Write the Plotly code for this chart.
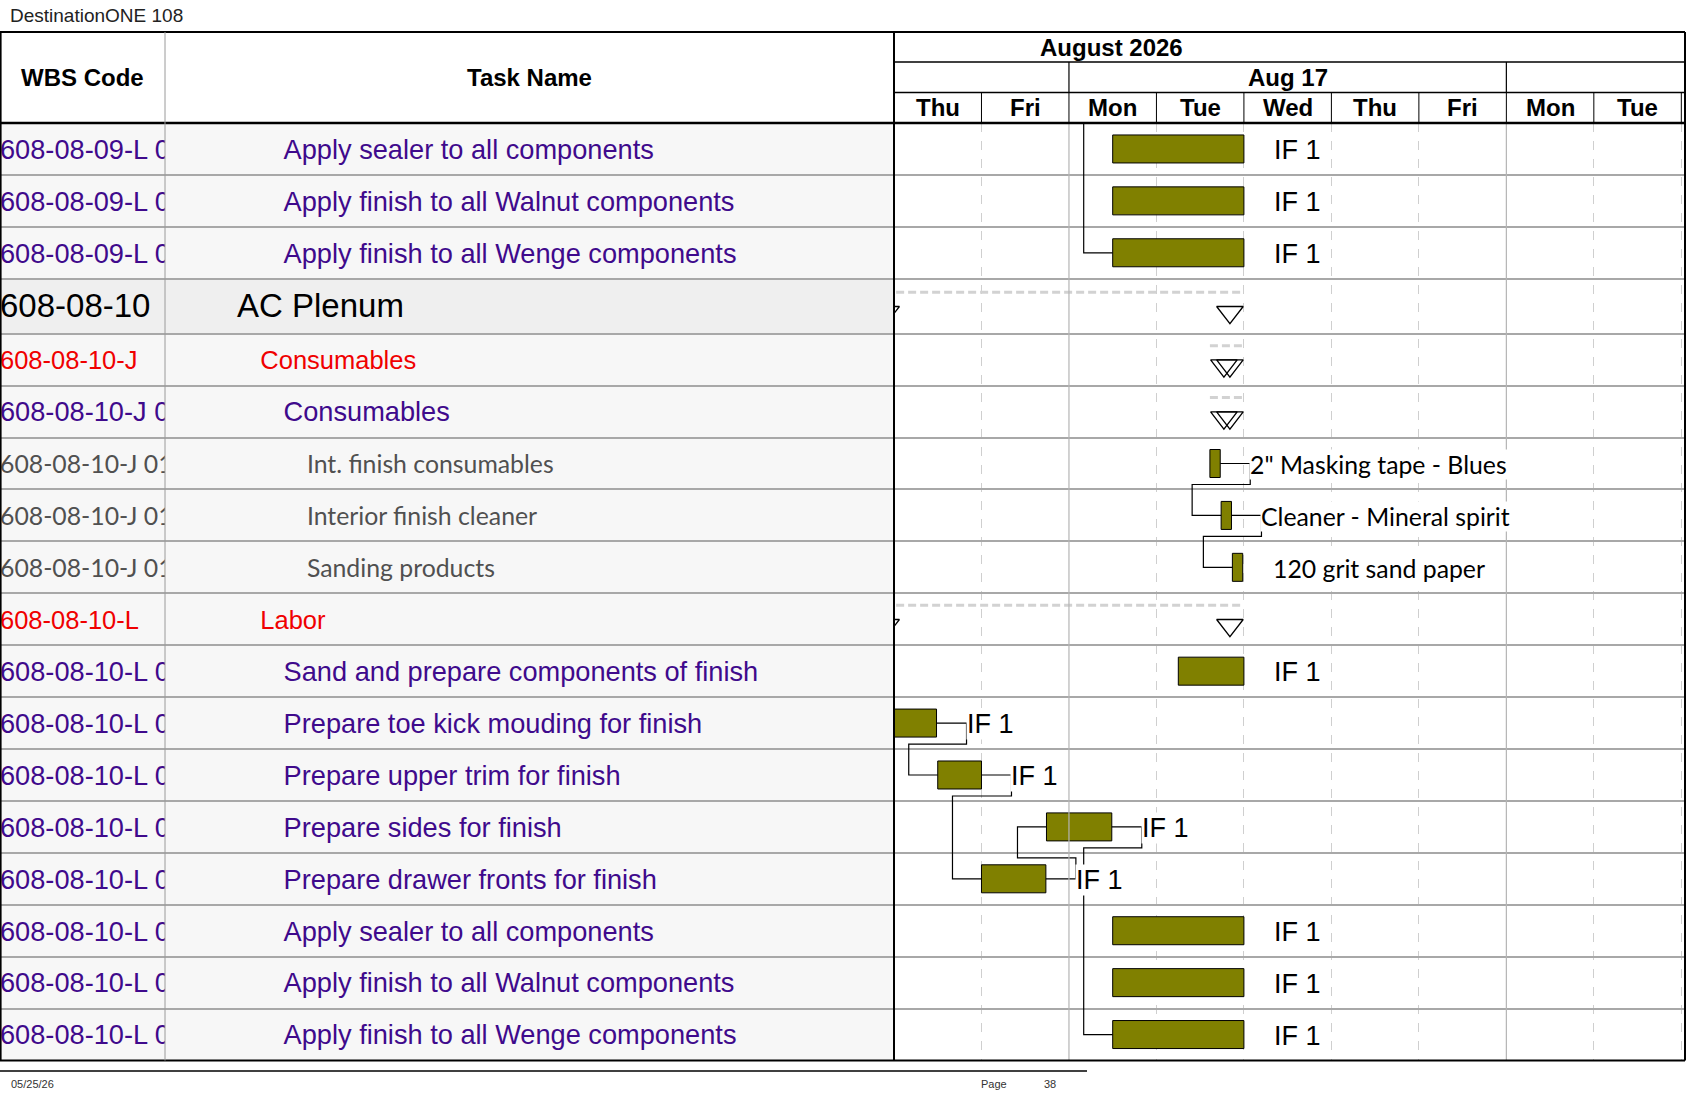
import numpy as np
import pandas as pd
import plotly.graph_objects as go

# ---- data ----
report_title = "DestinationONE 108"
print_date = "05/25/26"
page_number = "38"
month_label = "August 2026"
week_label = "Aug 17"
week_starts = ["2026-08-17", "2026-08-24"]
day_labels = ["Thu", "Fri", "Mon", "Tue", "Wed", "Thu", "Fri", "Mon", "Tue"]
view_start = "2026-08-13"

wbs_codes = [
    "608-08-09-L 06", "608-08-09-L 07", "608-08-09-L 08",
    "608-08-10", "608-08-10-J", "608-08-10-J 01",
    "608-08-10-J 01 01", "608-08-10-J 01 02", "608-08-10-J 01 03",
    "608-08-10-L", "608-08-10-L 01", "608-08-10-L 02", "608-08-10-L 03",
    "608-08-10-L 04", "608-08-10-L 05", "608-08-10-L 06", "608-08-10-L 07",
    "608-08-10-L 08",
]
task_names = [
    "Apply sealer to all components",
    "Apply finish to all Walnut components",
    "Apply finish to all Wenge components",
    "AC Plenum",
    "Consumables",
    "Consumables",
    "Int. finish consumables",
    "Interior finish cleaner",
    "Sanding products",
    "Labor",
    "Sand and prepare components of finish",
    "Prepare toe kick mouding for finish",
    "Prepare upper trim for finish",
    "Prepare sides for finish",
    "Prepare drawer fronts for finish",
    "Apply sealer to all components",
    "Apply finish to all Walnut components",
    "Apply finish to all Wenge components",
]
outline_level = [3, 3, 3, 1, 2, 3, 4, 4, 4, 2, 3, 3, 3, 3, 3, 3, 3, 3]
is_summary = [0, 0, 0, 1, 1, 1, 0, 0, 0, 1, 0, 0, 0, 0, 0, 0, 0, 0]
task_start = [
    "2026-08-17 12:00", "2026-08-17 12:00", "2026-08-17 12:00",
    "2026-08-12 18:00", "2026-08-18 14:40", "2026-08-18 14:40",
    "2026-08-18 14:40", "2026-08-18 17:45", "2026-08-18 20:50",
    "2026-08-12 18:00", "2026-08-18 06:00", "2026-08-12 18:00",
    "2026-08-13 12:00", "2026-08-14 17:50", "2026-08-14 00:00",
    "2026-08-17 12:00", "2026-08-17 12:00", "2026-08-17 12:00",
]
task_finish = [
    "2026-08-19 00:00", "2026-08-19 00:00", "2026-08-19 00:00",
    "2026-08-19 00:00", "2026-08-19 00:00", "2026-08-19 00:00",
    "2026-08-18 17:30", "2026-08-18 20:35", "2026-08-18 23:40",
    "2026-08-19 00:00", "2026-08-19 00:00", "2026-08-13 11:40",
    "2026-08-14 00:00", "2026-08-17 11:45", "2026-08-14 17:40",
    "2026-08-19 00:00", "2026-08-19 00:00", "2026-08-19 00:00",
]
bar_labels = [
    "IF 1", "IF 1", "IF 1", "", "", "",
    "2\" Masking tape - Blues", "Cleaner - Mineral spirit", "120 grit sand paper",
    "", "IF 1", "IF 1", "IF 1", "IF 1", "IF 1", "IF 1", "IF 1", "IF 1",
]
# finish-to-start links (predecessor row, successor row)
links = [(6, 7), (7, 8), (11, 12), (12, 14), (14, 13), (13, 17)]
# link coming from a task printed on the previous page (rows above, its finish, successor row)
offpage_link = (-4, "2026-08-17 12:00", 2)

# ---- page geometry (pixels) ----
W, H = 1687, 1097
TOP, HDR1, HDR2, BODY_TOP, BODY_BOT = 32, 62, 92.5, 123, 1060.5
COL1, COL2, RIGHT = 165, 894, 1685
DAY_PX = 87.48
NROWS = len(task_names)
GROUP_ROW_H = 55
ROW_H = (BODY_BOT - BODY_TOP - GROUP_ROW_H * outline_level.count(1)) / (NROWS - outline_level.count(1))
XMAX = (RIGHT - COL2) / DAY_PX

level_style = {
    1: ("Liberation Sans", 33, "#000000", "#efefef"),
    2: ("Liberation Sans", 25.5, "#f00000", "#f7f7f7"),
    3: ("Liberation Sans", 27.2, "#3f0a8c", "#f7f7f7"),
    4: ("Lato", 24.8, "#505050", "#f7f7f7"),
}
BAR_COLOR = "#808000"

# row edges / centres in page pixels (y axis runs in pixels, downwards)
heights = [GROUP_ROW_H if l == 1 else ROW_H for l in outline_level]
edges = list(BODY_TOP + np.concatenate([[0], np.cumsum(heights)]))
yc = [(edges[i] + edges[i + 1]) / 2 for i in range(NROWS)]


def px(x):
    return x / W


def py(y):
    return 1 - y / H


def dx(p):
    return p / DAY_PX


def wd(ts):
    # working days (weekends skipped) since the first printed day
    t = pd.Timestamp(ts)
    n = np.busday_count(np.datetime64(view_start), np.datetime64(t.date()))
    return float(n) + (t - t.normalize()) / pd.Timedelta(days=1)


def row_y(r):
    if r < 0:
        return BODY_TOP + (r + 0.5) * ROW_H
    return yc[r]


starts = [wd(s) for s in task_start]
finishes = [wd(f) for f in task_finish]
rows = list(range(NROWS))

fig = go.Figure()

# dependency lines
lx, ly = [], []


def add_link(pe, pr, ss, sr):
    y0, y1 = row_y(pr), row_y(sr)
    sgn = 1 if sr > pr else -1
    xa = pe + dx(30)
    yb = y0 + sgn * 21
    xb = ss - dx(29)
    lx.extend([pe, xa, xa, xb, xb, ss, None])
    ly.extend([y0, y0, yb, yb, y1, y1, None])


for p, s in links:
    add_link(finishes[p], p, starts[s], s)
add_link(wd(offpage_link[1]), offpage_link[0], starts[offpage_link[2]], offpage_link[2])
fig.add_trace(go.Scatter(x=lx, y=ly, mode="lines", line=dict(color="black", width=1.2),
                         hoverinfo="skip", showlegend=False))

# task bars
bar_rows = [r for r in rows if not is_summary[r]]
fig.add_trace(go.Bar(
    y=[yc[r] for r in bar_rows],
    base=[starts[r] for r in bar_rows],
    x=[finishes[r] - starts[r] for r in bar_rows],
    orientation="h", width=28,
    marker=dict(color=BAR_COLOR, line=dict(color="black", width=1)),
    hoverinfo="skip", showlegend=False,
))

# summary rows: dashed span + start/end triangles
sum_rows = [r for r in rows if is_summary[r]]
sx, sy = [], []
for r in sum_rows:
    sx.extend([starts[r], finishes[r], None])
    sy.extend([yc[r] - 14, yc[r] - 14, None])
fig.add_trace(go.Scatter(x=sx, y=sy, mode="lines",
                         line=dict(color="#d2d2d2", width=3, dash="8px,4px"),
                         hoverinfo="skip", showlegend=False))
tx, ty = [], []
for r in sum_rows:
    tx.extend([starts[r] + dx(14), finishes[r] - dx(14)])
    ty.extend([yc[r] + 6, yc[r] + 6])
fig.add_trace(go.Scatter(x=tx, y=ty, mode="markers",
                         marker=dict(symbol="triangle-down-open", size=23, color="black",
                                     line=dict(width=1.3)),
                         hoverinfo="skip", showlegend=False))

# table text
fams = [level_style[l][0] for l in outline_level]
sizes = [level_style[l][1] for l in outline_level]
cols = [level_style[l][2] for l in outline_level]
text_y = [y + 3 for y in yc]
fig.add_trace(go.Scatter(
    x=[0] * NROWS, y=text_y, text=wbs_codes, mode="text", textposition="middle right",
    textfont=dict(family=fams, size=sizes, color=cols),
    xaxis="x2", yaxis="y", cliponaxis=True, hoverinfo="skip", showlegend=False,
))
indent = [72 + (l - 1) * 23.3 for l in outline_level]
fig.add_trace(go.Scatter(
    x=indent, y=text_y, text=task_names, mode="text", textposition="middle right",
    textfont=dict(family=fams, size=sizes, color=cols),
    xaxis="x3", yaxis="y", cliponaxis=True, hoverinfo="skip", showlegend=False,
))

shapes = []
# table row backgrounds
for r in rows:
    shapes.append(dict(type="rect", xref="paper", yref="y", x0=0, x1=px(COL2),
                       y0=edges[r], y1=edges[r + 1], fillcolor=level_style[outline_level[r]][3],
                       line=dict(width=0), layer="below"))

day_bounds = [b for b in range(1, int(np.ceil(XMAX)))]
week_bounds = [wd(w) for w in week_starts]
for b in week_bounds:
    shapes.append(dict(type="line", xref="x", yref="y domain", x0=b, x1=b, y0=0, y1=1,
                       line=dict(color="#b4b4b4", width=1.2)))
    shapes.append(dict(type="line", xref="x", yref="paper", x0=b, x1=b, y0=py(HDR1), y1=py(HDR2),
                       line=dict(color="black", width=1.2)))
for b in day_bounds:
    shapes.append(dict(type="line", xref="x", yref="paper", x0=b, x1=b, y0=py(HDR2), y1=py(BODY_TOP),
                       line=dict(color="black", width=1)))


def pline(x0, y0, x1, y1, color="black", width=1.5):
    shapes.append(dict(type="line", xref="paper", yref="paper", x0=px(x0), x1=px(x1),
                       y0=py(y0), y1=py(y1), line=dict(color=color, width=width)))


pline(0, TOP, RIGHT, TOP, width=2)
pline(COL2, HDR1, RIGHT, HDR1, width=1.5)
pline(COL2, HDR2, RIGHT, HDR2, width=1.5)
pline(0, BODY_TOP, RIGHT, BODY_TOP, width=2.5)
pline(0, BODY_BOT, RIGHT, BODY_BOT, width=2)
pline(0.8, TOP, 0.8, BODY_BOT, width=1.6)
pline(RIGHT, TOP, RIGHT, BODY_BOT, width=2)
pline(COL2, TOP, COL2, BODY_BOT, width=2)
pline(COL1, TOP, COL1, BODY_BOT, color="#9a9a9a", width=1)
pline(0, 1071, 1087, 1071, width=1.3)

ann = []
hdr_font = dict(family="Liberation Sans", size=24, color="black")


def pann(text, x, y, font, xanchor="center", xref="paper"):
    ann.append(dict(text=text, xref=xref, yref="paper", x=x, y=py(y), xanchor=xanchor,
                    yanchor="middle", showarrow=False, font=font))


pann(report_title, px(8), 15, dict(family="Liberation Sans", size=19, color="#222222"), "left")
pann("<b>WBS Code</b>", px(COL1 / 2), 77.5, hdr_font)
pann("<b>Task Name</b>", px((COL1 + COL2) / 2), 77.5, hdr_font)
pann("<b>" + month_label + "</b>", px(1111), 47, hdr_font)
pann("<b>" + week_label + "</b>", (week_bounds[0] + week_bounds[1]) / 2, 77.5, hdr_font, xref="x")
for i, lab in enumerate(day_labels):
    pann("<b>" + lab + "</b>", i + 0.5, 107.7, hdr_font, xref="x")
for r in rows:
    if not bar_labels[r]:
        continue
    res = outline_level[r] == 4
    ann.append(dict(text=bar_labels[r], xref="x", yref="y", x=finishes[r], y=yc[r] + 1,
                    xanchor="left", yanchor="middle", xshift=29, showarrow=False,
                    bgcolor="white", borderpad=0,
                    font=dict(family="Lato" if res else "Liberation Sans",
                              size=24.8 if res else 27, color="black")))
foot = dict(family="Liberation Sans", size=11, color="#333333")
pann(print_date, px(9), 1084, foot, "left")
pann("Page", px(979), 1084, foot, "left")
pann(page_number, px(1042), 1084, foot, "left")

minor_bounds = [b for b in day_bounds if all(abs(b - w) > 1e-6 for w in week_bounds)]
fig.update_layout(
    width=W, height=H, margin=dict(l=0, r=0, t=0, b=0),
    paper_bgcolor="white", plot_bgcolor="rgba(0,0,0,0)",
    showlegend=False, barmode="overlay",
    xaxis=dict(domain=[px(COL2), px(RIGHT)], range=[0, XMAX], showticklabels=False,
               showgrid=False, zeroline=False, ticks="",
               minor=dict(tickvals=minor_bounds, showgrid=True, griddash="dash",
                          gridcolor="#cfcfcf", gridwidth=1, ticks="")),
    xaxis2=dict(domain=[0, px(COL1)], range=[0, COL1], anchor="y", showticklabels=False,
                showgrid=False, zeroline=False, ticks=""),
    xaxis3=dict(domain=[px(COL1), px(COL2)], range=[0, COL2 - COL1], anchor="y",
                showticklabels=False, showgrid=False, zeroline=False, ticks=""),
    yaxis=dict(domain=[py(BODY_BOT), py(BODY_TOP)], range=[BODY_BOT, BODY_TOP],
               tickvals=edges[1:-1], showticklabels=False, ticks="",
               showgrid=True, gridcolor="#a8a8a8", gridwidth=1.5, zeroline=False),
    shapes=shapes, annotations=ann,
)

fig.write_html("out.html", config={"displayModeBar": False},
               post_script="document.body.style.margin='0';document.body.style.overflow='hidden';")
